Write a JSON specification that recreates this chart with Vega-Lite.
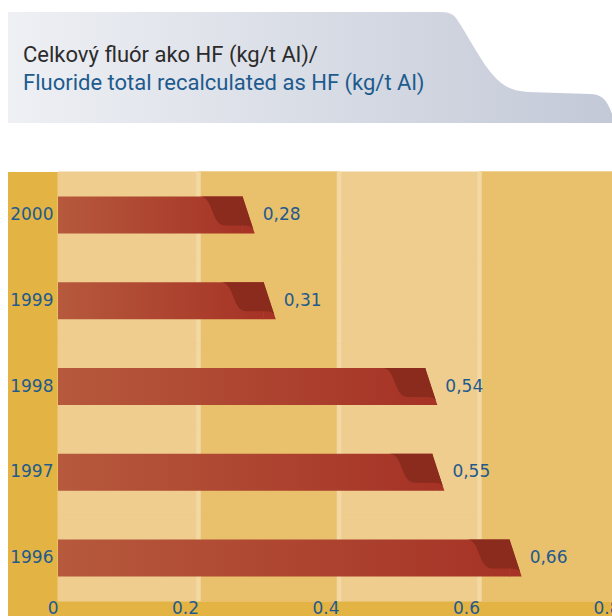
{
  "$schema": "https://vega.github.io/schema/vega-lite/v6.json",
  "padding": {"left": 8, "top": 11, "right": 0, "bottom": 0},
  "background": "white",
  "spacing": 48,
  "config": {"view": {"stroke": null}},
  "vconcat": [
    {
      "width": 604,
      "height": 111,
      "view": {
        "fill": {"gradient": "linear", "x1": 0, "y1": 0, "x2": 1, "y2": 0, "stops": [{"offset": 0, "color": "#EEF0F4"}, {"offset": 1, "color": "#C3C9D7"}]},
        "stroke": null
      },
      "title": {
        "text": "Celkový fluór ako HF (kg/t Al)/",
        "subtitle": "Fluoride total recalculated as HF (kg/t Al)",
        "anchor": "start",
        "frame": "group",
        "orient": "top",
        "offset": -84,
        "dx": 15,
        "font": "Roboto",
        "fontSize": 22,
        "fontWeight": "normal",
        "color": "#2B2B2B",
        "subtitleFont": "Roboto",
        "subtitleFontSize": 22,
        "subtitleFontWeight": "normal",
        "subtitleColor": "#1D5B8E",
        "subtitlePadding": 6
      },
      "data": {"values": [{"panel": "header"}]},
      "mark": {
        "type": "point",
        "shape": "M 130 -56.5 L 130 -55.5 C 143 -55.5 145 -51.5 150 -43.5 C 160 -27.5 173 -3.5 183 7.5 C 192 17.5 200 23.5 218 24.5 L 280 26.5 C 292 26.5 297 32.5 302 46.5 L 312 46.5 L 312 -56.5 Z",
        "size": 4,
        "filled": true,
        "fill": "white",
        "opacity": 1,
        "strokeWidth": 0
      }
    },
    {
      "width": 612,
      "height": 446,
      "view": {"fill": "#E3B443", "stroke": null},
      "data": {
        "values": [
          {"year": "2000", "value": 0.28, "label": "0,28"},
          {"year": "1999", "value": 0.31, "label": "0,31"},
          {"year": "1998", "value": 0.54, "label": "0,54"},
          {"year": "1997", "value": 0.55, "label": "0,55"},
          {"year": "1996", "value": 0.66, "label": "0,66"}
        ]
      },
      "encoding": {
        "y": {
          "field": "year",
          "type": "nominal",
          "sort": ["2000", "1999", "1998", "1997", "1996"],
          "scale": {"paddingInner": 0, "paddingOuter": 0.099, "align": 0},
          "axis": {
            "title": null,
            "orient": "left",
            "offset": -50,
            "domain": false,
            "ticks": false,
            "labelPadding": 5,
            "labelFont": "DejaVu Sans",
            "labelFontSize": 17,
            "labelColor": "#1F5A8C",
            "zindex": 1
          }
        }
      },
      "layer": [
        {
          "mark": {"type": "rect", "fill": "#EFCD8E", "stroke": "#EFCD8E", "strokeWidth": 1},
          "encoding": {
            "x": {
              "datum": 0,
              "type": "quantitative",
              "scale": {"domain": [-0.0712, 0.8], "nice": false, "zero": false},
              "axis": {
                "title": null,
                "offset": -17,
                "domain": false,
                "ticks": false,
                "grid": false,
                "values": [0, 0.2, 0.4, 0.6, 0.8],
                "format": "~g",
                "labelAlign": "right",
                "labelBaseline": "top",
                "labelPadding": -1,
                "labelDx": 2,
                "labelFont": "DejaVu Sans",
                "labelFontSize": 17,
                "labelColor": "#1F5A8C",
                "labelFlush": false,
                "labelOverlap": false,
                "labelBound": false,
                "zindex": 1
              }
            },
            "x2": {"datum": 0.8}
          }
        },
        {
          "mark": {"type": "rect", "fill": "#E9C06B", "stroke": "#E9C06B", "strokeWidth": 1},
          "encoding": {"x": {"datum": 0.2, "type": "quantitative"}, "x2": {"datum": 0.4}}
        },
        {
          "mark": {"type": "rect", "fill": "#E9C06B", "stroke": "#E9C06B", "strokeWidth": 1},
          "encoding": {"x": {"datum": 0.6, "type": "quantitative"}, "x2": {"datum": 0.8}}
        },
        {
          "mark": {"type": "rect", "fill": "#F3D8A4", "stroke": "#F3D8A4", "strokeWidth": 0.5, "xOffset": -2, "x2Offset": 2},
          "encoding": {"x": {"datum": 0.2, "type": "quantitative"}, "x2": {"datum": 0.2}}
        },
        {
          "mark": {"type": "rect", "fill": "#F3D8A4", "stroke": "#F3D8A4", "strokeWidth": 0.5, "xOffset": -2, "x2Offset": 2},
          "encoding": {"x": {"datum": 0.4, "type": "quantitative"}, "x2": {"datum": 0.4}}
        },
        {
          "mark": {"type": "rect", "fill": "#F3D8A4", "stroke": "#F3D8A4", "strokeWidth": 0.5, "xOffset": -2, "x2Offset": 2},
          "encoding": {"x": {"datum": 0.6, "type": "quantitative"}, "x2": {"datum": 0.6}}
        },
        {
          "mark": {
            "type": "bar",
            "size": 37,
            "xOffset": -12,
            "x2Offset": 0,
            "fill": {"gradient": "linear", "x1": 0, "y1": 0, "x2": 1, "y2": 0, "stops": [{"offset": 0, "color": "#B6593C"}, {"offset": 1, "color": "#A63326"}]}
          },
          "encoding": {
            "x": {"field": "value", "type": "quantitative"},
            "x2": {"datum": 0}
          }
        },
        {
          "mark": {
            "type": "point",
            "shape": "M -12.5 -18.5 L 0 18.5 L -12.5 18.5 Z",
            "size": 4,
            "filled": true,
            "fill": "#A63326",
            "opacity": 1,
            "strokeWidth": 0
          },
          "encoding": {"x": {"field": "value", "type": "quantitative"}}
        },
        {
          "mark": {
            "type": "point",
            "shape": "M -55 -18.5 L -12 -18.5 L -1.5 14 C -3 11.5 -6 10.5 -10 10.5 L -30 10.5 C -37 10.5 -40 2 -42.5 -4 C -45 -11 -48 -18.5 -55 -18.5 Z",
            "size": 4,
            "filled": true,
            "fill": "#8A2B1E",
            "opacity": 1,
            "strokeWidth": 0
          },
          "encoding": {"x": {"field": "value", "type": "quantitative"}}
        },
        {
          "mark": {"type": "text", "align": "left", "baseline": "middle", "dx": 8, "font": "DejaVu Sans", "fontSize": 17, "fill": "#1F5A8C"},
          "encoding": {
            "x": {"field": "value", "type": "quantitative"},
            "text": {"field": "label"}
          }
        }
      ]
    }
  ]
}
